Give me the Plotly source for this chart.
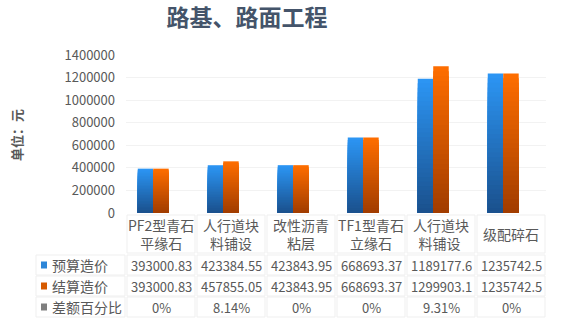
import plotly.graph_objects as go

categories = ["PF2型青石<br>平缘石", "人行道块<br>料铺设", "改性沥青<br>粘层", "TF1型青石<br>立缘石", "人行道块<br>料铺设 ", "级配碎石"]
budget = [393000.83, 423384.55, 423843.95, 668693.37, 1189177.6, 1235742.5]
settle = [393000.83, 457855.05, 423843.95, 668693.37, 1299903.1, 1235742.5]
diff_pct = [0, 8.14, 0, 0, 9.31, 0]
budget_txt = ["393000.83", "423384.55", "423843.95", "668693.37", "1189177.6", "1235742.5"]
settle_txt = ["393000.83", "457855.05", "423843.95", "668693.37", "1299903.1", "1235742.5"]
diff_txt = ["0%", "8.14%", "0%", "0%", "9.31%", "0%"]
series_names = ["预算造价", "结算造价", "差额百分比"]
y_ticks = [0, 200000, 400000, 600000, 800000, 1000000, 1200000, 1400000]

W, H = 583, 332
L, R, T, B = 126, 546, 55, 213

def px2x(px):
    return (px - L) / (R - L)

def py2y(py):
    return (B - py) / (B - T)

def lerp(c1, c2, t):
    return "rgb(%d,%d,%d)" % tuple(round(a + (b - a) * t) for a, b in zip(c1, c2))

blue_top, blue_bot = (44, 150, 245), (26, 80, 140)
orng_top, orng_bot = (255, 110, 0), (160, 60, 0)

fig = go.Figure()
N = 30
bw = 0.221
offsets = [-0.332, -0.111, 0.110]
for vals, top, bot, off in [(budget, blue_top, blue_bot, offsets[0]),
                            (settle, orng_top, orng_bot, offsets[1])]:
    for k in range(N):
        f = 1 - k / N
        fmid = 1 - (k + 0.5) / N
        fig.add_bar(x=list(range(6)), y=[v * f for v in vals], width=bw, offset=off,
                    marker=dict(color=lerp(bot, top, fmid), line=dict(width=0)),
                    hoverinfo="skip", showlegend=False)
fig.add_bar(x=list(range(6)), y=diff_pct, width=bw, offset=offsets[2],
            marker=dict(color="#7f7f7f", line=dict(width=0)), name=series_names[2], showlegend=False)

txt_color = "#595959"
font_cjk = "Noto Sans CJK SC, Microsoft YaHei, sans-serif"
shapes = []
annotations = []

# table cells
rows = [(215, 253), (255, 275), (276, 296), (297, 317)]
col_x = [(L + 1 + 70 * i, L - 1 + 70 * (i + 1)) for i in range(6)]
border = "#EFEFEF"
for (y0, y1) in rows:
    for (x0, x1) in col_x:
        shapes.append(dict(type="rect", xref="paper", yref="paper", x0=px2x(x0), x1=px2x(x1),
                           y0=py2y(y1), y1=py2y(y0), line=dict(color=border, width=1), layer="below"))
for (y0, y1) in rows[1:]:
    shapes.append(dict(type="rect", xref="paper", yref="paper", x0=px2x(36), x1=px2x(125),
                       y0=py2y(y1), y1=py2y(y0), line=dict(color=border, width=1), layer="below"))

for i, c in enumerate(categories):
    annotations.append(dict(x=i, xref="x", y=py2y(234), yref="paper", text=c, showarrow=False,
                            xanchor="center", yanchor="middle",
                            font=dict(size=14, color=txt_color, family=font_cjk), align="center"))
    for r, t in zip(rows[1:], [budget_txt[i], settle_txt[i], diff_txt[i]]):
        annotations.append(dict(x=i, xref="x", y=py2y((r[0] + r[1]) / 2), yref="paper", text=t,
                                xanchor="center", yanchor="middle",
                                showarrow=False, font=dict(size=13, color=txt_color, family=font_cjk)))

sq_colors = ["#2D86D8", "#D65A00", "#7F7F7F"]
for r, name, col in zip(rows[1:], series_names, sq_colors):
    cy = (r[0] + r[1]) / 2
    shapes.append(dict(type="rect", xref="paper", yref="paper", x0=px2x(41), x1=px2x(47),
                       y0=py2y(cy + 3.5), y1=py2y(cy - 3.5), fillcolor=col, line=dict(width=0)))
    annotations.append(dict(x=px2x(50), xref="paper", y=py2y(cy), yref="paper", text=name,
                            xanchor="left", yanchor="middle", showarrow=False,
                            font=dict(size=14, color=txt_color, family=font_cjk)))

# y-axis title
annotations.append(dict(x=px2x(16), xref="paper", y=py2y(135), yref="paper", text="<b>单位：元</b>",
                        xanchor="center", yanchor="middle",
                        textangle=-90, showarrow=False, font=dict(size=13, color=txt_color, family=font_cjk)))

fig.update_layout(
    width=W, height=H,
    margin=dict(l=L, r=W - R, t=T, b=H - B, pad=0),
    paper_bgcolor="white", plot_bgcolor="white",
    barmode="overlay",
    title=dict(text="<b>路基、路面工程</b>", x=247 / W, xanchor="center",
               y=1 - 18 / H, yanchor="middle",
               font=dict(size=23, color="#44546A", family=font_cjk)),
    xaxis=dict(range=[-0.5, 5.5], showticklabels=False, showgrid=False, zeroline=False,
               showline=False, ticks=""),
    yaxis=dict(range=[0, 1400000], tickvals=y_ticks, ticktext=[str(v) for v in y_ticks],
               showgrid=True, gridcolor="#F2F2F2", gridwidth=1, zeroline=False, showline=False,
               tickfont=dict(size=13, color=txt_color, family=font_cjk), ticklabelstandoff=10),
    shapes=shapes, annotations=annotations, showlegend=False,
)

fig.write_html("out.html")
